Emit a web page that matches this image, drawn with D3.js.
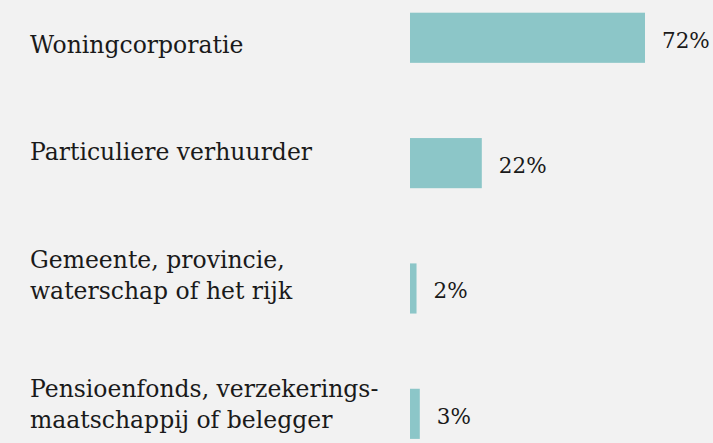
<!DOCTYPE html>
<html>
<head>
<meta charset="utf-8">
<script src="https://cdn.jsdelivr.net/npm/d3@7"></script>
<style>
  html, body { margin: 0; padding: 0; background: #f2f2f2; }
  text { font-family: "DejaVu Serif", serif; fill: #1a1a1a; }
</style>
</head>
<body>
<div id="chart"></div>
<script>
// data
var categories = [
  "Woningcorporatie",
  "Particuliere verhuurder",
  "Gemeente, provincie, waterschap of het rijk",
  "Pensioenfonds, verzekerings- maatschappij of belegger"
];
var labelLines = [
  ["Woningcorporatie"],
  ["Particuliere verhuurder"],
  ["Gemeente, provincie,", "waterschap of het rijk"],
  ["Pensioenfonds, verzekerings-", "maatschappij of belegger"]
];
var values = [72, 22, 2, 3];

var width = 713, height = 443;

var svg = d3.select("#chart")
  .append("svg")
    .attr("width", width)
    .attr("height", height);

var x = d3.scaleLinear()
  .domain([0, 72])
  .range([410, 645]);

var y = d3.scaleBand()
  .domain(categories)
  .range([12.7, 438.9])
  .paddingInner(0.6)
  .paddingOuter(0);

// label baseline offset from band centre (the labels don't sit centred on the bars)
var labelDy = [15.5, -3, -20, -17];
var lineHeight = 31;

// bars
svg.append("g")
  .selectAll("rect")
  .data(values)
  .enter()
  .append("rect")
    .attr("x", x(0))
    .attr("y", function(d, i) { return y(categories[i]); })
    .attr("width", function(d) { return x(d) - x(0); })
    .attr("height", y.bandwidth())
    .style("fill", "#8cc6c8");

// value labels
svg.append("g")
  .selectAll("text")
  .data(values)
  .enter()
  .append("text")
    .attr("x", function(d) { return x(d) + 17; })
    .attr("y", function(d, i) { return y(categories[i]) + y.bandwidth() / 2 + 10; })
    .style("font-size", "21.5px")
    .text(function(d) { return d + "%"; });

// category labels
var lab = svg.append("g")
  .selectAll("text")
  .data(labelLines)
  .enter()
  .append("text")
    .attr("x", 30)
    .attr("y", function(d, i) { return y(categories[i]) + y.bandwidth() / 2 + labelDy[i]; })
    .style("font-size", "23.5px");

lab.selectAll("tspan")
  .data(function(d) { return d; })
  .enter()
  .append("tspan")
    .attr("x", 30)
    .attr("dy", function(d, j) { return j == 0 ? 0 : lineHeight; })
    .text(function(d) { return d; });
</script>
</body>
</html>
